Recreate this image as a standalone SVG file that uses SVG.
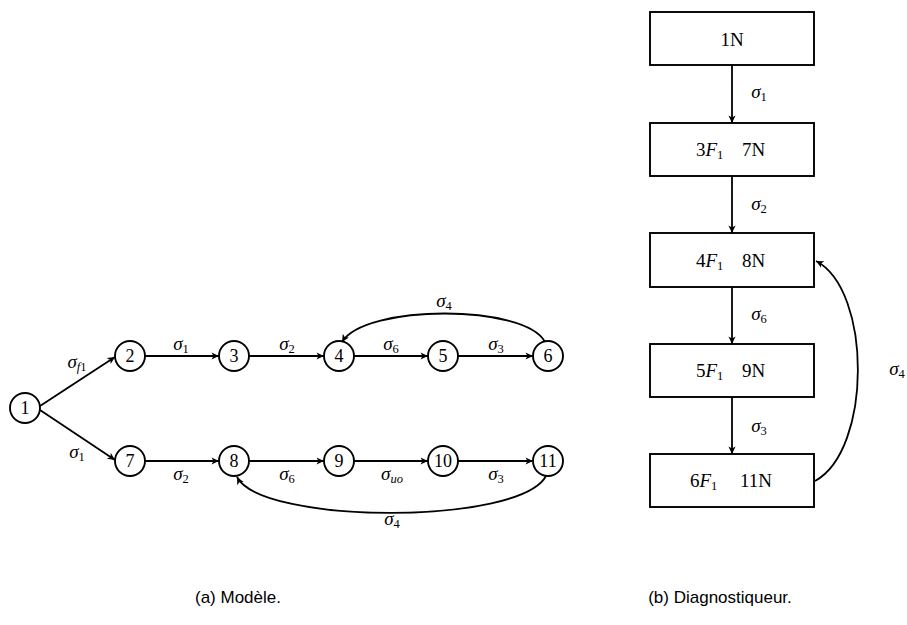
<svg xmlns="http://www.w3.org/2000/svg" width="907" height="625" viewBox="0 0 907 625">
<style>
.st{fill:#fff;stroke:#000;stroke-width:1.9}
.e{fill:none;stroke:#000;stroke-width:1.8;marker-end:url(#ah)}
.n{font-family:"Liberation Serif","DejaVu Serif",serif;font-size:18px;text-anchor:middle;fill:#000}
.b{font-family:"Liberation Serif","DejaVu Serif",serif;font-size:19px;fill:#000}
.l{font-family:"Liberation Serif","DejaVu Serif",serif;font-size:19px;font-style:italic;text-anchor:middle;fill:#000}
.s{font-size:12.5px;font-style:normal}
.si{font-size:12.5px;font-style:italic}
.cap{font-family:"Liberation Sans","DejaVu Sans",sans-serif;font-size:17px;text-anchor:middle;fill:#000}
</style>
<defs>
<marker id="ah" viewBox="-8 -4 9 8" refX="0" refY="0" markerWidth="9" markerHeight="8" orient="auto" markerUnits="userSpaceOnUse">
<path d="M0,0 L-7.5,-3.6 L-5.5,0 L-7.5,3.6 Z" fill="#000"/>
</marker>
</defs>
<rect width="907" height="625" fill="#fff"/>

<g id="connectors">
<path class="e" d="M40,406 L115,357"/>
<path class="e" d="M40,410 L115,460"/>
<path class="e" d="M145,356 L219,356"/>
<path class="e" d="M249,356 L324,356"/>
<path class="e" d="M354,356 L428,356"/>
<path class="e" d="M458,356 L533,356"/>
<path class="e" d="M545,342 C525,304 365,304 342,342"/>
<path class="e" d="M145,461 L219,461"/>
<path class="e" d="M249,461 L324,461"/>
<path class="e" d="M354,461 L428,461"/>
<path class="e" d="M458,461 L533,461"/>
<path class="e" d="M546,476 C520,525 262,525 237,477"/>
<path class="e" d="M732,65 L732,123"/>
<path class="e" d="M732,176 L732,233"/>
<path class="e" d="M732,287 L732,344"/>
<path class="e" d="M732,397 L732,454"/>
<path class="e" d="M815,481 C872,450 872,290 816,261"/>
</g>

<g id="labels">
<text class="l" x="77" y="368">σ<tspan class="si" dy="3">f</tspan><tspan class="s">1</tspan></text>
<text class="l" x="77" y="458">σ<tspan class="s" dy="3">1</tspan></text>
<text class="l" x="181" y="350">σ<tspan class="s" dy="3">1</tspan></text>
<text class="l" x="287" y="350">σ<tspan class="s" dy="3">2</tspan></text>
<text class="l" x="391" y="350">σ<tspan class="s" dy="3">6</tspan></text>
<text class="l" x="496" y="350">σ<tspan class="s" dy="3">3</tspan></text>
<text class="l" x="444" y="307">σ<tspan class="s" dy="3">4</tspan></text>
<text class="l" x="181" y="480">σ<tspan class="s" dy="3">2</tspan></text>
<text class="l" x="287" y="480">σ<tspan class="s" dy="3">6</tspan></text>
<text class="l" x="392" y="480">σ<tspan class="si" dy="3">uo</tspan></text>
<text class="l" x="496" y="480">σ<tspan class="s" dy="3">3</tspan></text>
<text class="l" x="392" y="525">σ<tspan class="s" dy="3">4</tspan></text>
<text class="l" x="759" y="98">σ<tspan class="s" dy="3">1</tspan></text>
<text class="l" x="759" y="210">σ<tspan class="s" dy="3">2</tspan></text>
<text class="l" x="759" y="320">σ<tspan class="s" dy="3">6</tspan></text>
<text class="l" x="759" y="432">σ<tspan class="s" dy="3">3</tspan></text>
<text class="l" x="897" y="375">σ<tspan class="s" dy="3">4</tspan></text>
</g>

<g id="n1"><circle class="st" cx="25" cy="408" r="15"/><text class="n" x="25" y="414">1</text></g>
<g id="n2"><circle class="st" cx="130" cy="356" r="15"/><text class="n" x="130" y="362">2</text></g>
<g id="n3"><circle class="st" cx="234" cy="356" r="15"/><text class="n" x="234" y="362">3</text></g>
<g id="n4"><circle class="st" cx="339" cy="356" r="15"/><text class="n" x="339" y="362">4</text></g>
<g id="n5"><circle class="st" cx="443" cy="356" r="15"/><text class="n" x="443" y="362">5</text></g>
<g id="n6"><circle class="st" cx="548" cy="356" r="15"/><text class="n" x="548" y="362">6</text></g>
<g id="n7"><circle class="st" cx="130" cy="461" r="15"/><text class="n" x="130" y="467">7</text></g>
<g id="n8"><circle class="st" cx="234" cy="461" r="15"/><text class="n" x="234" y="467">8</text></g>
<g id="n9"><circle class="st" cx="339" cy="461" r="15"/><text class="n" x="339" y="467">9</text></g>
<g id="n10"><circle class="st" cx="443" cy="461" r="15"/><text class="n" x="443" y="467">10</text></g>
<g id="n11"><circle class="st" cx="548" cy="461" r="15"/><text class="n" x="548" y="467">11</text></g>

<g id="b1"><rect class="st" x="650" y="12" width="164" height="53"/><text class="b" x="732" y="46" text-anchor="middle">1N</text></g>
<g id="b2"><rect class="st" x="650" y="123" width="164" height="53"/><text class="b" x="696" y="156">3<tspan font-style="italic">F</tspan><tspan class="s" dy="3">1</tspan></text><text class="b" x="742" y="156">7N</text></g>
<g id="b3"><rect class="st" x="650" y="233" width="164" height="54"/><text class="b" x="696" y="267">4<tspan font-style="italic">F</tspan><tspan class="s" dy="3">1</tspan></text><text class="b" x="742" y="267">8N</text></g>
<g id="b4"><rect class="st" x="650" y="344" width="164" height="53"/><text class="b" x="696" y="377">5<tspan font-style="italic">F</tspan><tspan class="s" dy="3">1</tspan></text><text class="b" x="742" y="377">9N</text></g>
<g id="b5"><rect class="st" x="650" y="454" width="164" height="53"/><text class="b" x="690" y="487">6<tspan font-style="italic">F</tspan><tspan class="s" dy="3">1</tspan></text><text class="b" x="740" y="487">11N</text></g>

<text class="cap" x="238" y="603">(a) Modèle.</text>
<text class="cap" x="720" y="603">(b) Diagnostiqueur.</text>
</svg>
